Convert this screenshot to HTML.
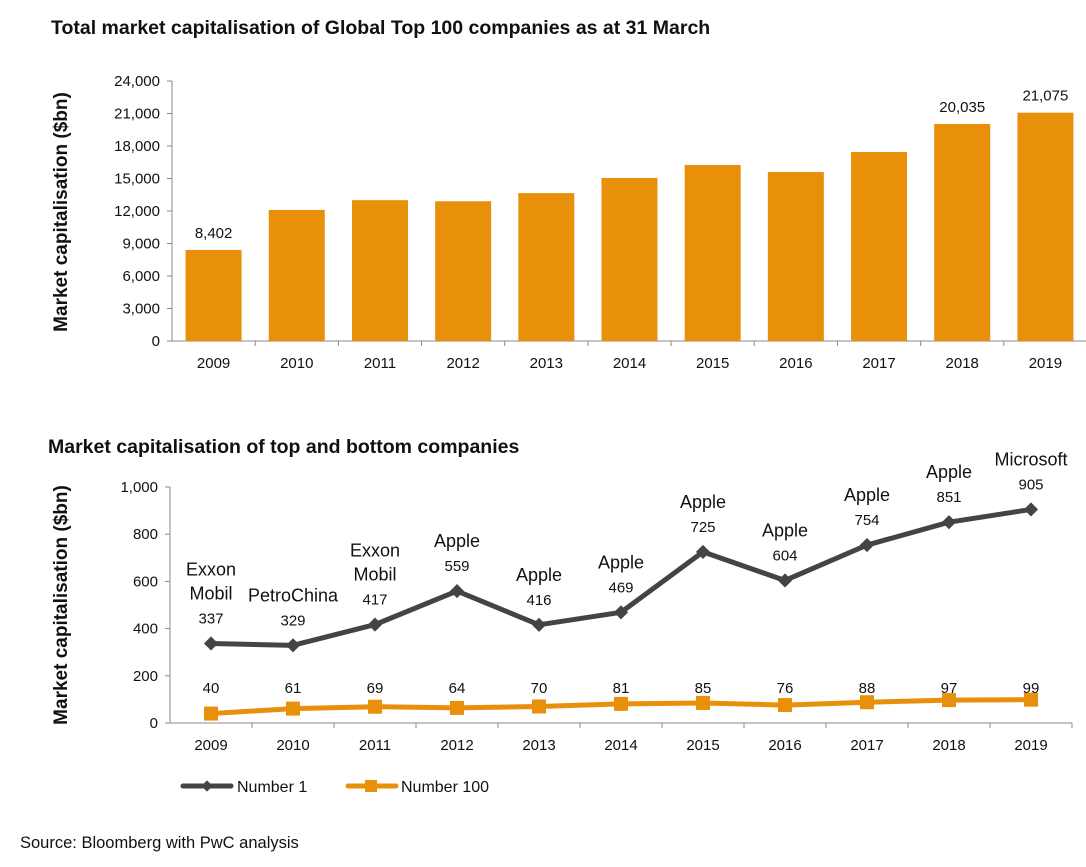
<!DOCTYPE html>
<html><head><meta charset="utf-8"><style>
body{margin:0;background:#fff;font-family:"Liberation Sans",Arial,sans-serif;}
svg text{font-family:"Liberation Sans",Arial,sans-serif;fill:#111;}
</style></head><body>
<svg id="c" width="1086" height="862" xmlns="http://www.w3.org/2000/svg">
<text x="51" y="34" font-size="19.5" font-weight="bold">Total market capitalisation of Global Top 100 companies as at 31 March</text>
<text x="48" y="453" font-size="19.5" font-weight="bold">Market capitalisation of top and bottom companies</text>
<text transform="translate(67,212) rotate(-90)" text-anchor="middle" font-size="19" font-weight="bold">Market capitalisation ($bn)</text>
<text transform="translate(67,605) rotate(-90)" text-anchor="middle" font-size="19" font-weight="bold">Market capitalisation ($bn)</text>
<g id="top"></g><g id="bot"></g>
<g>
<line x1="183" y1="786" x2="231" y2="786" stroke="#444" stroke-width="5" stroke-linecap="round"/>
<rect x="203" y="782" width="8" height="8" fill="#444" transform="rotate(45 207 786)"/>
<text x="237" y="792" font-size="16">Number 1</text>
<line x1="348" y1="786" x2="396" y2="786" stroke="#E8900A" stroke-width="5" stroke-linecap="round"/>
<rect x="365" y="780" width="12" height="12" fill="#E8900A"/>
<text x="401" y="792" font-size="16">Number 100</text>
</g>
<text x="20" y="848" font-size="16.5">Source: Bloomberg with PwC analysis</text>
</svg>
<script>
const years=["2009","2010","2011","2012","2013","2014","2015","2016","2017","2018","2019"];
const totalCap=[8402,12100,13000,12900,13650,15050,16250,15600,17450,20035,21075];
const totalLabels=["8,402","","","","","","","","","20,035","21,075"];
const topTicks=[0,3000,6000,9000,12000,15000,18000,21000,24000];
const number1=[337,329,417,559,416,469,725,604,754,851,905];
const number100=[40,61,69,64,70,81,85,76,88,97,99];
const leaders=[["Exxon","Mobil"],["PetroChina"],["Exxon","Mobil"],["Apple"],["Apple"],["Apple"],["Apple"],["Apple"],["Apple"],["Apple"],["Microsoft"]];
const botTicks=[0,200,400,600,800,1000];
const NS="http://www.w3.org/2000/svg";
function mk(p,t,a,txt){const e=document.createElementNS(NS,t);for(const k in a)e.setAttribute(k,a[k]);if(txt!==undefined)e.textContent=txt;p.appendChild(e);return e;}
const fmt=v=>v.toLocaleString("en-US");
const T=document.getElementById("top");
const tx0=172,tx1=1087,ty0=341,ty1=81,tmax=24000;
const tbw=(tx1-tx0)/years.length;
const tY=v=>ty0-(v/tmax)*(ty0-ty1);
topTicks.forEach(v=>{const t=mk(T,"text",{x:tx0-12,y:tY(v)+5,"text-anchor":"end","font-size":15},fmt(v));


mk(T,"line",{x1:tx0-5,x2:tx0,y1:tY(v),y2:tY(v),stroke:"#888"});});
mk(T,"line",{x1:tx0,x2:tx0,y1:ty1,y2:ty0,stroke:"#888"});
mk(T,"line",{x1:tx0,x2:tx1,y1:ty0,y2:ty0,stroke:"#888"});
years.forEach((y,i)=>{const cx=tx0+tbw*(i+.5);
const r=mk(T,"rect",{x:cx-28,y:tY(totalCap[i]),width:56,height:ty0-tY(totalCap[i]),fill:"#E8900A"});


mk(T,"line",{x1:tx0+tbw*(i+1),x2:tx0+tbw*(i+1),y1:ty0,y2:ty0+5,stroke:"#888"});
const t=mk(T,"text",{x:cx,y:ty0+27,"text-anchor":"middle","font-size":15},y);


if(totalLabels[i]){const l=mk(T,"text",{x:cx,y:tY(totalCap[i])-12,"text-anchor":"middle","font-size":15},totalLabels[i]);

}
});
const B=document.getElementById("bot");
const bx0=170,bx1=1072,by0=723,by1=487,bmax=1000;
const bbw=(bx1-bx0)/years.length;
const bX=i=>bx0+bbw*(i+.5);
const bY=v=>by0-(v/bmax)*(by0-by1);
botTicks.forEach(v=>{const t=mk(B,"text",{x:bx0-12,y:bY(v)+5,"text-anchor":"end","font-size":15},fmt(v));


mk(B,"line",{x1:bx0-5,x2:bx0,y1:bY(v),y2:bY(v),stroke:"#888"});});
mk(B,"line",{x1:bx0,x2:bx0,y1:by1,y2:by0,stroke:"#888"});
mk(B,"line",{x1:bx0,x2:bx1,y1:by0,y2:by0,stroke:"#888"});
years.forEach((y,i)=>{mk(B,"line",{x1:bx0+bbw*(i+1),x2:bx0+bbw*(i+1),y1:by0,y2:by0+5,stroke:"#888"});
const t=mk(B,"text",{x:bX(i),y:by0+27,"text-anchor":"middle","font-size":15},y);

});
const l1=mk(B,"polyline",{points:number1.map((v,i)=>bX(i)+","+bY(v)).join(" "),fill:"none",stroke:"#444","stroke-width":5,"stroke-linejoin":"round"});


const l2=mk(B,"polyline",{points:number100.map((v,i)=>bX(i)+","+bY(v)).join(" "),fill:"none",stroke:"#E8900A","stroke-width":5,"stroke-linejoin":"round"});


years.forEach((y,i)=>{const x=bX(i),y1=bY(number1[i]),y2=bY(number100[i]);
const d=mk(B,"rect",{x:x-5,y:y1-5,width:10,height:10,fill:"#444",transform:`rotate(45 ${x} ${y1})`});


const s=mk(B,"rect",{x:x-7,y:y2-7,width:14,height:14,fill:"#E8900A"});


const v1=mk(B,"text",{x:x,y:y1-20,"text-anchor":"middle","font-size":15},number1[i]);


const v2=mk(B,"text",{x:x,y:by0-30,"text-anchor":"middle","font-size":15},number100[i]);


const ln=leaders[i];
ln.forEach((w,k)=>{const n=mk(B,"text",{x:x,y:y1-44-(ln.length-1-k)*24,"text-anchor":"middle","font-size":18},w);

});
});
</script>
</body></html>
